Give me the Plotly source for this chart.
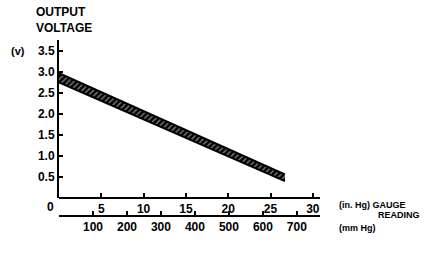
import plotly.graph_objects as go

# Data
gauge_inhg = [0.0, 26.7]          # gauge reading, in. Hg
volt_upper = [2.97, 0.56]         # upper edge of band (V)
volt_lower = [2.75, 0.40]         # lower edge of band (V)
y_ticks = [0.5, 1.0, 1.5, 2.0, 2.5, 3.0, 3.5]
x_ticks_in = [5, 10, 15, 20, 25, 30]
x_ticks_mm = [100, 200, 300, 400, 500, 600, 700]

W, H = 436, 253
L, T, B = 59, 40, 37
R = W - 320
plot_h = H - T - B               # 176
plot_w = W - L - R
ydom0 = 18 / plot_h

FONT = "Liberation Sans"
tf = dict(family=FONT, size=12, color="black", weight="bold")

fig = go.Figure()
# lower edge
fig.add_trace(go.Scatter(x=gauge_inhg, y=volt_lower, mode="lines",
                         line=dict(color="black", width=2), showlegend=False))
# upper edge with hatched fill to lower
fig.add_trace(go.Scatter(x=gauge_inhg, y=volt_upper, mode="lines",
                         line=dict(color="black", width=2), fill="tonexty",
                         fillcolor="black",
                         fillpattern=dict(shape="/", fgcolor="white", bgcolor="black",
                                          size=4, solidity=0.35),
                         showlegend=False))
# dummy for mm axis
fig.add_trace(go.Scatter(x=[0], y=[0], xaxis="x2", mode="markers",
                         marker=dict(opacity=0), showlegend=False, hoverinfo="skip"))

xr = 30.85
fig.update_layout(
    width=W, height=H, margin=dict(l=L, r=R, t=T, b=B),
    paper_bgcolor="white", plot_bgcolor="white",
    xaxis=dict(range=[0, xr], anchor="free", position=ydom0,
               tickvals=x_ticks_in, ticktext=[str(v) for v in x_ticks_in],
               ticks="inside", ticklen=4, tickwidth=1.5, tickcolor="black",
               showline=True, linecolor="black", linewidth=2,
               showgrid=False, zeroline=False, tickfont=tf),
    xaxis2=dict(range=[0, 768], anchor="free", position=0, overlaying="x",
                side="bottom",
                tickvals=x_ticks_mm, ticktext=[str(v) for v in x_ticks_mm],
                ticks="inside", ticklen=4, tickwidth=1.5, tickcolor="black",
                showline=True, linecolor="black", linewidth=2,
                showgrid=False, zeroline=False, tickfont=tf),
    yaxis=dict(range=[0, 3.76], domain=[ydom0, 1],
               tickvals=y_ticks, ticktext=["%.1f" % v for v in y_ticks],
               ticks="inside", ticklen=4, tickwidth=1.5, tickcolor="black",
               showline=True, linecolor="black", linewidth=2,
               showgrid=False, zeroline=False, tickfont=tf),
    annotations=[
        dict(text="<b>OUTPUT<br>VOLTAGE</b>", xref="paper", yref="paper",
             x=-25 / plot_w, y=1 + 3 / plot_h, xanchor="left", yanchor="bottom",
             showarrow=False, align="left", font=dict(family=FONT, size=12, color="black")),
        dict(text="<b>(v)</b>", xref="paper", yref="y", x=-50 / plot_w, y=3.5,
             xanchor="left", yanchor="middle", showarrow=False,
             font=dict(family=FONT, size=11, color="black")),
        dict(text="<b>0</b>", xref="paper", yref="paper", x=-9 / plot_w,
             y=ydom0 - 9 / plot_h, xanchor="center", yanchor="middle", showarrow=False,
             font=dict(family=FONT, size=12, color="black")),
        dict(text="<b>(in. Hg) GAUGE</b>", xref="paper", yref="paper",
             x=1 + 17 / plot_w, y=ydom0 - 7 / plot_h, xanchor="left", yanchor="middle",
             showarrow=False, font=dict(family=FONT, size=9, color="black")),
        dict(text="<b>READING</b>", xref="paper", yref="paper",
             x=1 + 56 / plot_w, y=ydom0 - 17 / plot_h, xanchor="left", yanchor="middle",
             showarrow=False, font=dict(family=FONT, size=9, color="black")),
        dict(text="<b>(mm Hg)</b>", xref="paper", yref="paper",
             x=1 + 17 / plot_w, y=-12 / plot_h, xanchor="left", yanchor="middle",
             showarrow=False, font=dict(family=FONT, size=9, color="black")),
    ],
)

fig.write_html("out.html")
